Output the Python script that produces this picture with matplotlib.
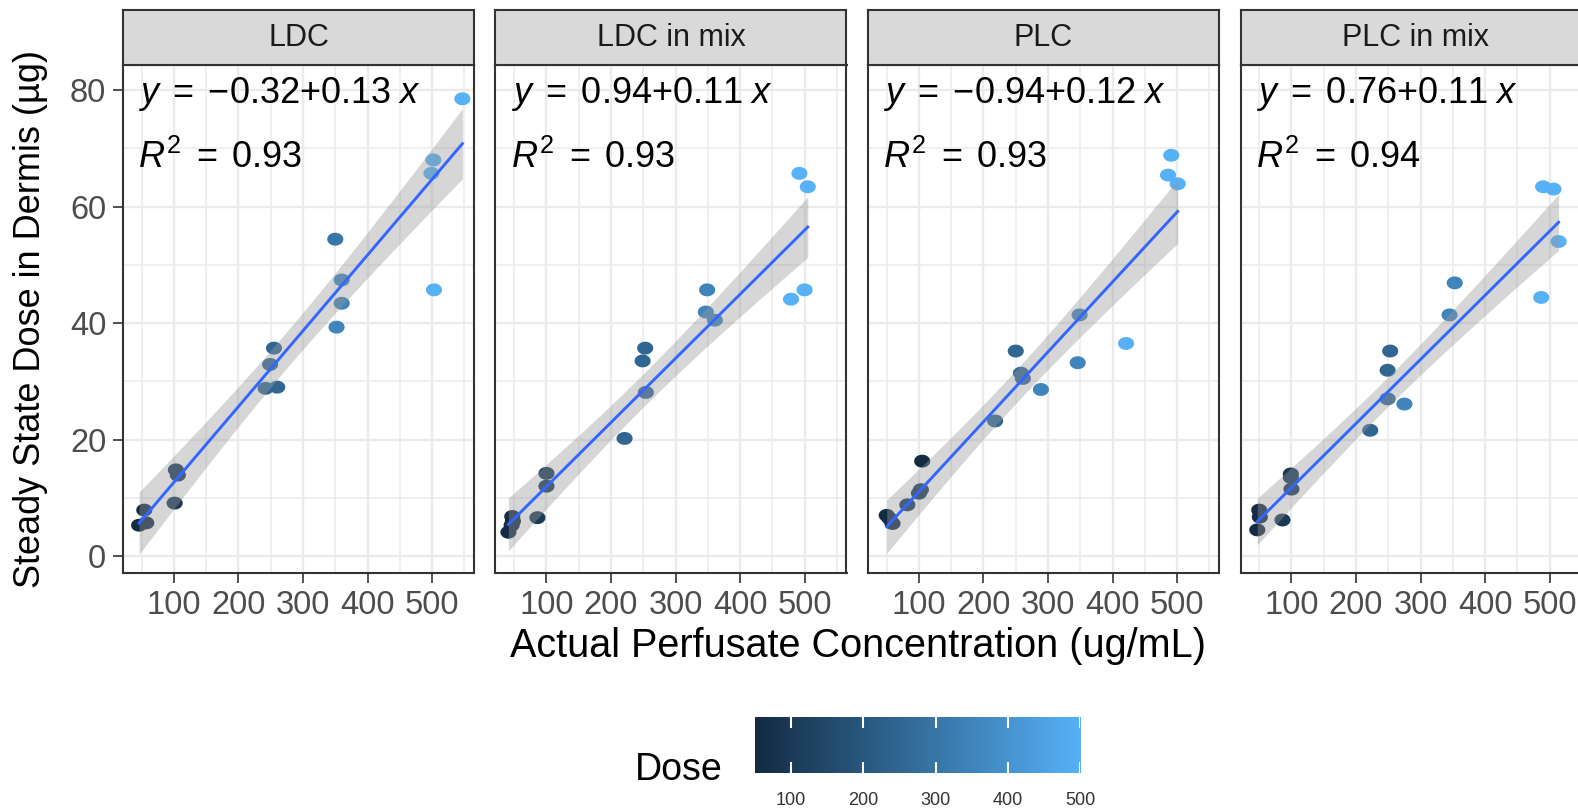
import numpy as np
import matplotlib
matplotlib.use('Agg')
import matplotlib.pyplot as plt
from matplotlib.colors import LinearSegmentedColormap, Normalize

plt.rcParams['font.family'] = ['Liberation Sans', 'DejaVu Sans']
plt.rcParams['mathtext.fontset'] = 'custom'
plt.rcParams['mathtext.rm'] = 'Liberation Sans'
plt.rcParams['mathtext.it'] = 'Liberation Sans:italic'

drugs = ['LDC', 'LDC in mix', 'PLC', 'PLC in mix']

# actual perfusate concentration (ug/mL), steady state dermis dose (ug), nominal dose
ldc_conc = [46, 57, 54, 101, 103, 106, 242, 260, 249, 255, 350, 360, 360, 352, 499, 502, 503, 547]
ldc_dermis = [5.3, 5.7, 7.9, 9.1, 14.8, 13.9, 28.8, 29.0, 32.9, 35.7, 54.4, 47.4, 43.4, 39.3, 65.7, 68.0, 45.7, 78.5]
ldc_dose = [50, 50, 50, 100, 100, 100, 250, 250, 250, 250, 300, 350, 350, 350, 500, 500, 500, 500]

ldcmix_conc = [41, 46, 47, 48, 86, 100, 100, 221, 254, 249, 253, 347, 361, 349, 479, 500, 492, 505]
ldcmix_dermis = [4.1, 5.3, 6.8, 6.0, 6.6, 12.0, 14.2, 20.2, 28.1, 33.5, 35.7, 41.9, 40.5, 45.7, 44.1, 45.7, 65.7, 63.4]
ldcmix_dose = [50, 50, 50, 50, 100, 100, 100, 250, 250, 250, 250, 350, 350, 350, 500, 500, 500, 500]

plc_conc = [50, 54, 59, 82, 100, 103, 105, 218, 250, 258, 261, 289, 346, 349, 421, 486, 491, 501]
plc_dermis = [7.0, 6.5, 5.6, 8.8, 10.8, 11.4, 16.3, 23.2, 35.2, 31.4, 30.5, 28.6, 33.2, 41.4, 36.5, 65.4, 68.8, 63.9]
plc_dose = [50, 50, 50, 100, 100, 100, 50, 250, 250, 250, 250, 350, 350, 350, 500, 500, 500, 500]

plcmix_conc = [47, 50, 51, 86, 99, 99, 100, 222, 249, 249, 253, 275, 345, 353, 487, 490, 506, 514]
plcmix_dermis = [4.5, 7.9, 6.7, 6.2, 14.1, 13.5, 11.5, 21.6, 27.0, 31.9, 35.2, 26.1, 41.4, 46.9, 44.4, 63.4, 63.0, 54.0]
plcmix_dose = [50, 50, 50, 100, 100, 100, 100, 250, 250, 250, 250, 350, 350, 350, 500, 500, 500, 500]

# fitted lm coefficients shown in each facet
intercepts = [-0.32, 0.94, -0.94, 0.76]
slopes = [0.13, 0.11, 0.12, 0.11]
r_squared = [0.93, 0.93, 0.93, 0.94]

conc = [ldc_conc, ldcmix_conc, plc_conc, plcmix_conc]
dermis = [ldc_dermis, ldcmix_dermis, plc_dermis, plcmix_dermis]
dose = [ldc_dose, ldcmix_dose, plc_dose, plcmix_dose]

dose_cmap = LinearSegmentedColormap.from_list('dose', ['#132B43', '#56B1F7'])
all_dose = np.concatenate(dose)
norm = Normalize(all_dose.min(), all_dose.max())

# slightly wide dots
t = np.linspace(0, 2 * np.pi, 41)
dot = np.column_stack([1.25 * np.cos(t), np.sin(t)])

W, H = 1578, 811
fig = plt.figure(figsize=(W / 100, H / 100), dpi=100)

grid_col = '#EBEBEB'
border_col = '#333333'
lefts = [123, 495.5, 868, 1240.5]
pw, ph = 351, 508
pbottom = H - 573

for i, name in enumerate(drugs):
    x = np.array(conc[i], dtype=float)
    y = np.array(dermis[i], dtype=float)
    a, b = intercepts[i], slopes[i]

    ax = fig.add_axes([lefts[i] / W, pbottom / H, pw / W, ph / H])
    ax.set_xlim(21, 565)
    ax.set_ylim(-2.9, 84.3)
    ax.set_xticks([100, 200, 300, 400, 500])
    ax.set_xticks([50, 150, 250, 350, 450, 550], minor=True)
    ax.set_yticks([0, 20, 40, 60, 80])
    ax.set_yticks([10, 30, 50, 70], minor=True)
    ax.grid(which='major', color=grid_col, lw=1.7, zorder=0)
    ax.grid(which='minor', color=grid_col, lw=1.1, zorder=0)
    ax.set_axisbelow(True)
    ax.tick_params(which='major', length=7, width=1.2, color=border_col,
                   labelsize=23.5, labelcolor='#4D4D4D', pad=5)
    ax.tick_params(which='minor', length=0)
    if i > 0:
        ax.tick_params(axis='y', which='both', left=False, labelleft=False)
    for sp in ax.spines.values():
        sp.set_color(border_col)
        sp.set_linewidth(1.5)

    ax.scatter(x, y, c=dose[i], cmap=dose_cmap, norm=norm, marker=dot,
               s=135, linewidths=0, zorder=2)

    # 95% confidence band around the regression line
    n = len(x)
    resid = y - (a + b * x)
    s_err = np.sqrt(np.sum(resid ** 2) / (n - 2))
    xg = np.linspace(x.min(), x.max(), 100)
    yg = a + b * xg
    se = s_err * np.sqrt(1 / n + (xg - x.mean()) ** 2 / np.sum((x - x.mean()) ** 2))
    ax.fill_between(xg, yg - 2.11 * se, yg + 2.11 * se, color='#999999',
                    alpha=0.4, lw=0, zorder=3)
    ax.plot(xg, yg, color='#3366FF', lw=2.1, zorder=4)

    sign = '{-}' if a < 0 else ''
    ax.text(0.043, 0.925, rf'$y\;=\;{sign}{abs(a):.2f}{{+}}{b:.2f}\;x$',
            transform=ax.transAxes, fontsize=26, color='black', va='baseline', zorder=5)
    ax.text(0.043, 0.797, rf'$R^2\;=\;{r_squared[i]:.2f}$',
            transform=ax.transAxes, fontsize=26, color='black', va='baseline', zorder=5)

    strip = fig.add_axes([lefts[i] / W, (H - 65) / H, pw / W, 55 / H])
    strip.set_facecolor('#D9D9D9')
    strip.set_xticks([])
    strip.set_yticks([])
    for sp in strip.spines.values():
        sp.set_color(border_col)
        sp.set_linewidth(1.5)
    strip.text(0.5, 0.5, name, transform=strip.transAxes, ha='center', va='center',
               fontsize=22, color='#1A1A1A')

fig.text(858 / W, 1 - 657 / H, 'Actual Perfusate Concentration (ug/mL)',
         ha='center', va='baseline', fontsize=28.5, color='black')
fig.text(31 / W, 1 - 319 / H, 'Steady State Dose in Dermis (µg)', rotation=90,
         ha='center', va='center', fontsize=26, color='black')

# Dose colourbar legend
cax = fig.add_axes([755 / W, (H - 773) / H, 325 / W, 56 / H])
grad = np.linspace(norm.vmin, norm.vmax, 256)[None, :]
cax.imshow(grad, cmap=dose_cmap, norm=norm, aspect='auto',
           extent=[norm.vmin, norm.vmax, 0, 1])
cax.set_xlim(norm.vmin, norm.vmax)
cax.set_ylim(0, 1)
breaks = [100, 200, 300, 400, 500]
cax.vlines(breaks, 0, 0.2, color='white', lw=1.5)
cax.vlines(breaks, 0.8, 1, color='white', lw=1.5)
cax.set_xticks(breaks)
cax.set_yticks([])
cax.tick_params(axis='x', length=0, labelsize=13, labelcolor='#333333', pad=14)
for sp in cax.spines.values():
    sp.set_visible(False)
fig.text(635 / W, 1 - 780 / H, 'Dose', ha='left', va='baseline', fontsize=27, color='black')

fig.savefig('out.png', dpi=100)
